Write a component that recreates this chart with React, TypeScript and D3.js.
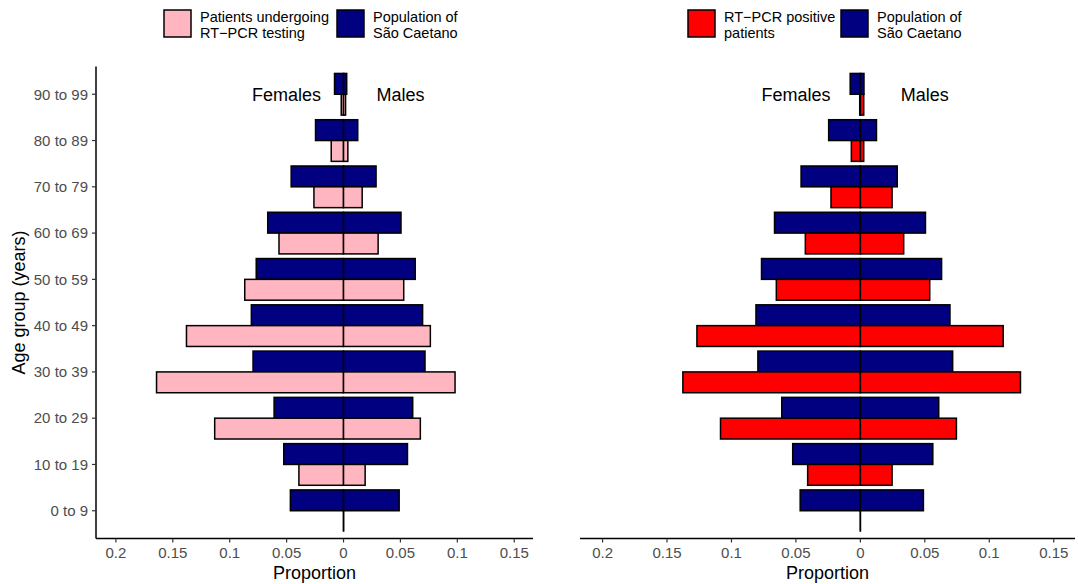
import * as d3 from 'd3';

const ageGroups = ['0 to 9', '10 to 19', '20 to 29', '30 to 39', '40 to 49', '50 to 59', '60 to 69', '70 to 79', '80 to 89', '90 to 99'];

// population of São Caetano (proportion)
const popFemale = [0.0467, 0.0525, 0.061, 0.0795, 0.081, 0.0767, 0.0666, 0.046, 0.0246, 0.0079];
const popMale = [0.0489, 0.0562, 0.0608, 0.0716, 0.0695, 0.063, 0.0505, 0.0286, 0.0125, 0.0028];

// patients undergoing RT-PCR testing
const testedFemale = [0, 0.0392, 0.1132, 0.1643, 0.138, 0.0868, 0.0567, 0.026, 0.0108, 0.002];
const testedMale = [0, 0.019, 0.0675, 0.098, 0.0763, 0.0529, 0.0304, 0.0164, 0.0038, 0.0018];

// RT-PCR positive patients
const positiveFemale = [0, 0.0409, 0.1085, 0.1377, 0.1268, 0.0652, 0.0427, 0.0228, 0.007, 0.0005];
const positiveMale = [0, 0.0246, 0.0745, 0.1242, 0.1108, 0.0538, 0.0336, 0.0246, 0.0026, 0.0026];

const xTicks = [-0.2, -0.15, -0.1, -0.05, 0, 0.05, 0.1, 0.15];
const xDomain = [-0.2175, 0.1665];

const FONT = '"Liberation Sans", Arial, Helvetica, sans-serif';
const NAVY = '#000080';

const top = 66.5;
const bottom = 538.5;

function Panel({ x0, x1, female, male, fill, label, yAxis, legendX }) {
  const x = d3.scaleLinear().domain(xDomain).range([x0, x1]);
  const y = d3.scalePoint().domain(ageGroups).range([bottom, top]).padding(0.6);
  const half = y.step() * 0.45;

  const bar = (v, yy, key, color, side) => {
    const w = Math.abs(x(v) - x(0));
    // a zero-width bar still shows its outline, as in ggplot
    if (w === 0) {
      return <line key={key} x1={x(0)} x2={x(0)} y1={yy} y2={yy + half} stroke="#000" strokeWidth={1.5} />;
    }
    return (
      <rect
        key={key}
        x={side < 0 ? x(-v) : x(0)}
        width={w}
        y={yy}
        height={half}
        fill={color}
        stroke="#000"
        strokeWidth={1.5}
      />
    );
  };

  return (
    <g>
      {/* legend */}
      <g fontFamily={FONT} fontSize={14.5} fill="#000">
        <rect x={legendX[0]} y={10} width={27} height={27} fill={fill} stroke="#000" strokeWidth={1.5} />
        <text x={legendX[0] + 36} y={22}>{label[0]}</text>
        <text x={legendX[0] + 36} y={38}>{label[1]}</text>
        <rect x={legendX[1]} y={10} width={27} height={27} fill={NAVY} stroke="#000" strokeWidth={1.5} />
        <text x={legendX[1] + 36} y={22}>Population of</text>
        <text x={legendX[1] + 36} y={38}>São Caetano</text>
      </g>

      {ageGroups.map((g, i) => (
        <g key={g}>
          {bar(popFemale[i], y(g) - half, 'pf', NAVY, -1)}
          {bar(popMale[i], y(g) - half, 'pm', NAVY, 1)}
          {bar(female[i], y(g), 'f', fill, -1)}
          {bar(male[i], y(g), 'm', fill, 1)}
        </g>
      ))}

      <text x={x(-0.05)} y={y('90 to 99')} dy="0.35em" textAnchor="middle" fontFamily={FONT} fontSize={18}>Females</text>
      <text x={x(0.05)} y={y('90 to 99')} dy="0.35em" textAnchor="middle" fontFamily={FONT} fontSize={18}>Males</text>

      {/* x axis */}
      <line x1={x0} x2={x1} y1={bottom} y2={bottom} stroke="#000" strokeWidth={1.5} />
      {xTicks.map((t) => (
        <g key={t} transform={`translate(${x(t)},${bottom})`}>
          <line y1={0} y2={4} stroke="#333" strokeWidth={1.2} />
          <text y={14} dy="0.35em" textAnchor="middle" fontFamily={FONT} fontSize={15} fill="#4d4d4d">
            {String(+Math.abs(t).toFixed(2))}
          </text>
        </g>
      ))}
      <text x={(x0 + x1) / 2} y={573} dy="0.35em" textAnchor="middle" fontFamily={FONT} fontSize={18}>Proportion</text>

      {yAxis && (
        <g>
          <line x1={x0} x2={x0} y1={top} y2={bottom} stroke="#000" strokeWidth={1.5} />
          {ageGroups.map((g) => (
            <g key={g} transform={`translate(${x0},${y(g)})`}>
              <line x1={-4} x2={0} stroke="#333" strokeWidth={1.2} />
              <text x={-8} dy="0.35em" textAnchor="end" fontFamily={FONT} fontSize={15} fill="#4d4d4d">{g}</text>
            </g>
          ))}
          <text
            transform={`translate(19,${(top + bottom) / 2}) rotate(-90)`}
            dy="0.35em"
            textAnchor="middle"
            fontFamily={FONT}
            fontSize={18}
          >
            Age group (years)
          </text>
        </g>
      )}
    </g>
  );
}

export default function App() {
  return (
    <svg width={1078} height={584} style={{ position: 'absolute', left: 0, top: 0, background: '#fff' }}>
      <rect width={1078} height={584} fill="#fff" />
      <Panel
        x0={96}
        x1={533}
        female={testedFemale}
        male={testedMale}
        fill="#FFB6C1"
        label={['Patients undergoing', 'RT−PCR testing']}
        yAxis={true}
        legendX={[164, 337]}
      />
      <Panel
        x0={580}
        x1={1075}
        female={positiveFemale}
        male={positiveMale}
        fill="#FF0000"
        label={['RT−PCR positive', 'patients']}
        yAxis={false}
        legendX={[688, 841]}
      />
    </svg>
  );
}
